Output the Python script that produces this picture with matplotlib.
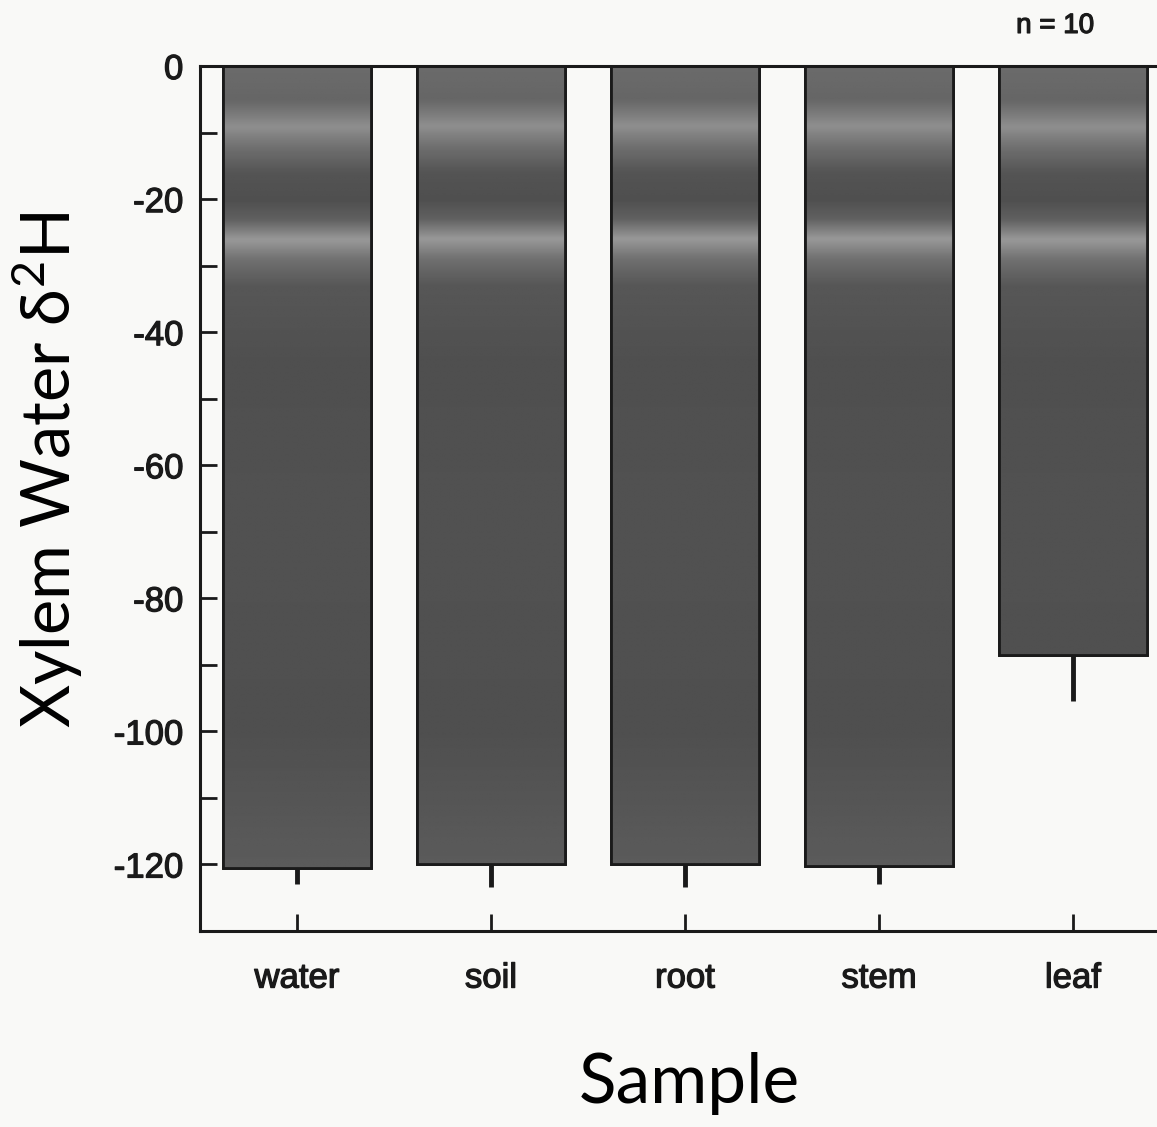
import numpy as np
import matplotlib.pyplot as plt
import matplotlib.patheffects as pe
from matplotlib.ticker import MultipleLocator, FuncFormatter

# values
samples = ["water", "soil", "root", "stem", "leaf"]
d2h = [-120.5, -120.0, -120.0, -120.3, -88.5]
err_low = [2.4, 3.4, 3.4, 2.6, 7.0]
n_note = "n = 10"

# grey shading of the bar fill (the scan shows lighter bands near the top)
shade_depth = [0, -5, -9, -12, -16, -20, -23, -26, -29, -33, -45, -70, -100, -121]
shade_level = [0.42, 0.40, 0.56, 0.44, 0.33, 0.31, 0.38, 0.60, 0.44, 0.34, 0.31, 0.32, 0.31, 0.36]

plt.rcParams["font.family"] = ["Liberation Sans", "DejaVu Sans"]
plt.rcParams["mathtext.fontset"] = "custom"
plt.rcParams["mathtext.rm"] = "Lato"

ink = "#1a1a1a"
heavy = [pe.withStroke(linewidth=0.9, foreground=ink)]

fig = plt.figure(figsize=(11.57, 11.27), dpi=100, facecolor="#f9f9f7")
# axes runs past the right edge, as in the cropped scan
ax = fig.add_axes([0.1729, 0.1739, 0.8384, 0.7675])
ax.set_facecolor("#f9f9f7")

x = range(len(samples))
bars = ax.bar(x, d2h, width=0.76, color="#585858", edgecolor=ink, linewidth=2, zorder=2)

yy = np.linspace(0, -121, 300)
grad = np.interp(-yy, [-d for d in shade_depth], shade_level).reshape(-1, 1)
for b in bars:
    x0 = b.get_x()
    im = ax.imshow(grad, extent=[x0, x0 + b.get_width(), -121, 0], origin="upper",
                   cmap="gray", vmin=0, vmax=1, aspect="auto", zorder=2.5,
                   interpolation="bilinear")
    im.set_clip_path(b)
    ax.bar(b.get_x() + b.get_width() / 2, b.get_height(), width=b.get_width(),
           fill=False, edgecolor=ink, linewidth=2, zorder=3)

ax.errorbar(x, d2h, yerr=[err_low, [0] * len(err_low)], fmt="none",
            ecolor=ink, elinewidth=3.5, capsize=0, zorder=1)

ax.set_xlim(-0.5, 4.5)
ax.set_ylim(-130, 0)
ax.yaxis.set_major_locator(MultipleLocator(20))
ax.yaxis.set_minor_locator(MultipleLocator(10))
ax.yaxis.set_major_formatter(FuncFormatter(lambda v, p: f"{v:.0f}"))
ax.set_xticks(list(x))
ax.set_xticklabels(samples)

ax.tick_params(axis="both", which="both", direction="in", length=12, width=2,
               color=ink, labelsize=25, labelcolor=ink)
ax.tick_params(axis="x", pad=22)
ax.tick_params(axis="y", pad=12)
for lab in ax.get_xticklabels() + ax.get_yticklabels():
    lab.set_path_effects(heavy)
for s in ax.spines.values():
    s.set_linewidth(2.2)
    s.set_color(ink)
    s.set_zorder(4)

fig.text(0.040, 0.583, r"Xylem Water δ$^{\mathregular{2}}$H", fontsize=48, family="Lato",
         rotation=90, ha="center", va="center")
fig.text(0.596, 0.039, "Sample", fontsize=50, family="Lato", ha="center", va="center")
fig.text(0.912, 0.977, n_note, fontsize=20, ha="center", va="center", color=ink,
         path_effects=heavy)

fig.savefig("out.png", dpi=100, facecolor=fig.get_facecolor())
